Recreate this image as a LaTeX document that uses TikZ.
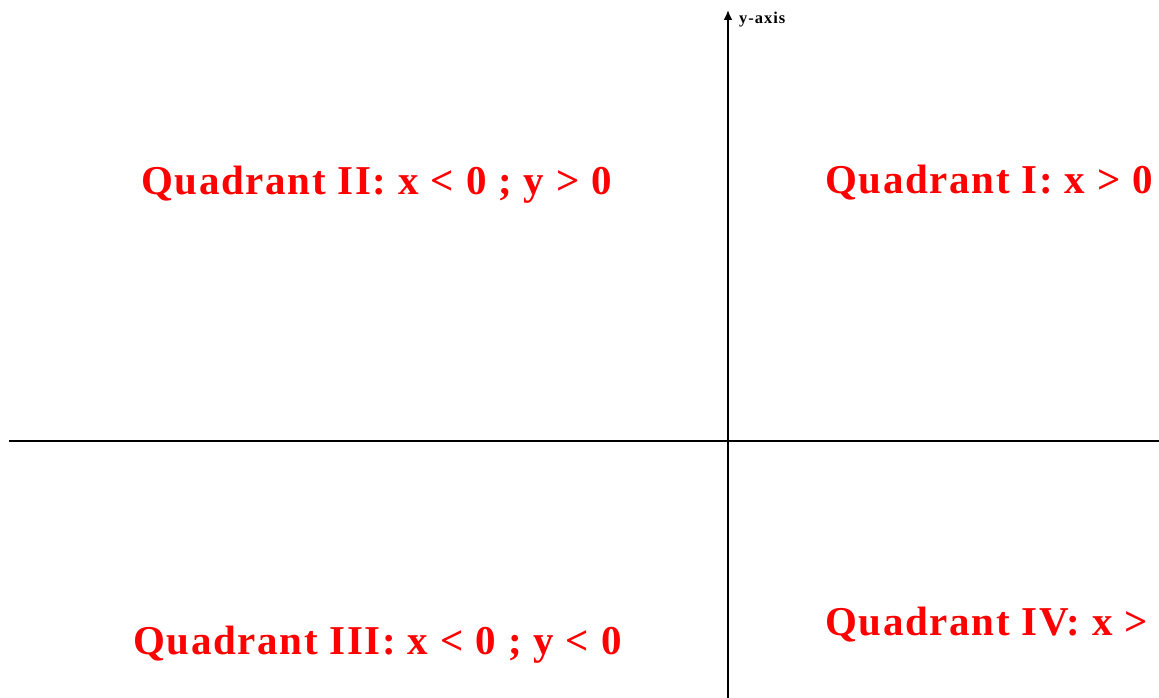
\documentclass[tikz,border=0pt]{standalone}
\usepackage{fontspec}
\setmainfont{Liberation Serif}
\newfontfamily\quadfont[LetterSpace=4]{Liberation Serif}
\newfontfamily\axisfont[LetterSpace=6]{Liberation Serif}
\usetikzlibrary{arrows.meta}
\tikzset{
  quadlabel/.style={anchor=base west, inner sep=0pt, text=red, font=\quadfont\fontsize{41}{43}\selectfont\bfseries},
  axislabel/.style={anchor=base west, inner sep=0pt, font=\axisfont\fontsize{16.5}{18}\selectfont\bfseries},
  axisline/.style={line width=2pt, black}
}
\begin{document}
\begin{tikzpicture}[x=1pt,y=-1pt]
\useasboundingbox (0,0) rectangle (1159,698);
\clip (0,0) rectangle (1159,698);
\coordinate (xl) at (9,441);
\coordinate (xr) at (1159,441);
\coordinate (yb) at (728,698);
\coordinate (yt) at (728,10);
\draw[axisline] (xl) -- (xr);
\draw[axisline,-{Latex[length=10pt,width=9pt]}] (yb) -- (yt);
\node[axislabel] (ylab) at (739,24) {y-axis};
\node[quadlabel] (q2) at (141,194) {Quadrant II: x < 0 ; y > 0};
\node[quadlabel] (q1) at (825,193) {Quadrant I: x > 0};
\node[quadlabel] (q3) at (133,654) {Quadrant III: x < 0 ; y < 0};
\node[quadlabel] (q4) at (825,635) {Quadrant IV: x >};
\end{tikzpicture}
\end{document}
